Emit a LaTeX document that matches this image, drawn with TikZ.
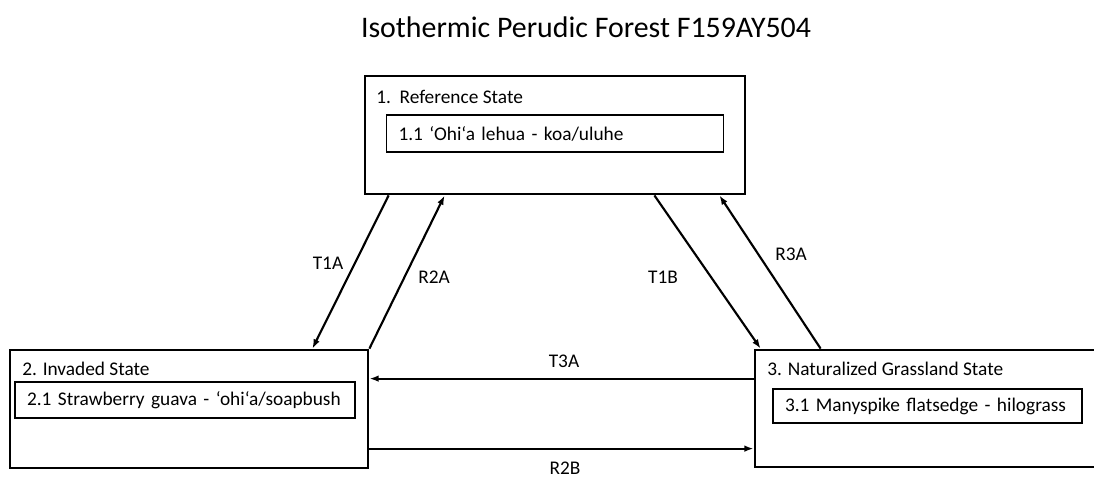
\documentclass[tikz,border=0pt]{standalone}
\usepackage{fontspec}
\setmainfont{Carlito}
\usetikzlibrary{arrows.meta,calc}

\tikzset{
	statebox/.style={draw, line width=2.1pt, inner sep=0pt},
	phasebox/.style={draw, line width=1.1pt, inner sep=0pt, align=left, font=\fontsize{14.5}{16}\selectfont},
	boxtitle/.style={anchor=west, inner sep=0pt, font=\fontsize{14.5}{16}\selectfont},
	pathlabel/.style={inner sep=0pt, font=\fontsize{14.5}{16}\selectfont},
	trans/.style={line width=1.6pt, -{Latex[length=7pt,width=5pt]}}
}

\begin{document}
\begin{tikzpicture}[x=0.75pt, y=-0.75pt]
	\useasboundingbox (0,0) rectangle (1094,479);

	\node (Title) [font=\fontsize{22.4}{26}\selectfont] at (586, 27) {Isothermic Perudic Forest F159AY504};

	% states
	\node (Ref) [statebox, minimum width=285pt, minimum height=88.5pt] at (555, 135) {};
	\node (RefTitle) [boxtitle] at (376, 97) {1.\ \ Reference State};
	\node (RefPhase) [phasebox, minimum width=252.75pt, minimum height=28pt, text width=234.75pt] at (555, 133.5) {1.1 ‘Ohi‘a lehua - koa/uluhe};

	\node (Inv) [statebox, minimum width=268.5pt, minimum height=88.5pt] at (189, 409) {};
	\node (InvTitle) [boxtitle] at (22, 369) {2. Invaded State};
	\node (InvPhase) [phasebox, minimum width=255pt, minimum height=27pt, text width=237pt] at (185, 400) {2.1 Strawberry guava - ‘ohi‘a/soapbush};

	\node (Nat) [statebox, minimum width=256.5pt, minimum height=87.75pt] at (926, 408.5) {};
	\node (NatTitle) [boxtitle] at (767, 369) {3. Naturalized Grassland State};
	\node (NatPhase) [phasebox, minimum width=231.75pt, minimum height=25.5pt, text width=213.75pt] at (927.5, 406) {3.1 Manyspike flatsedge - hilograss};

	% transitions
	\draw [trans] ($(Ref.south west)+(25,0)$) -- ($(Inv.north east)+(-57,0)$);
	\draw [trans] (Inv.north east) -- ($(Ref.south west)+(81,0)$);
	\draw [trans] ($(Ref.south east)+(-92,0)$) -- ($(Nat.north west)+(7,0)$);
	\draw [trans] ($(Nat.north west)+(67,0)$) -- ($(Ref.south east)+(-27,0)$);
	\draw [trans] ($(Nat.north west)+(0,30)$) -- ($(Inv.north east)+(0,30)$);
	\draw [trans] ($(Inv.north east)+(0,100)$) -- ($(Nat.north west)+(0,100)$);

	\node (T1A) [pathlabel] at (328, 263) {T1A};
	\node (R2A) [pathlabel] at (434, 277) {R2A};
	\node (T1B) [pathlabel] at (663, 277) {T1B};
	\node (R3A) [pathlabel] at (791, 254) {R3A};
	\node (T3A) [pathlabel] at (564, 361) {T3A};
	\node (R2B) [pathlabel] at (565, 468) {R2B};
\end{tikzpicture}
\end{document}
